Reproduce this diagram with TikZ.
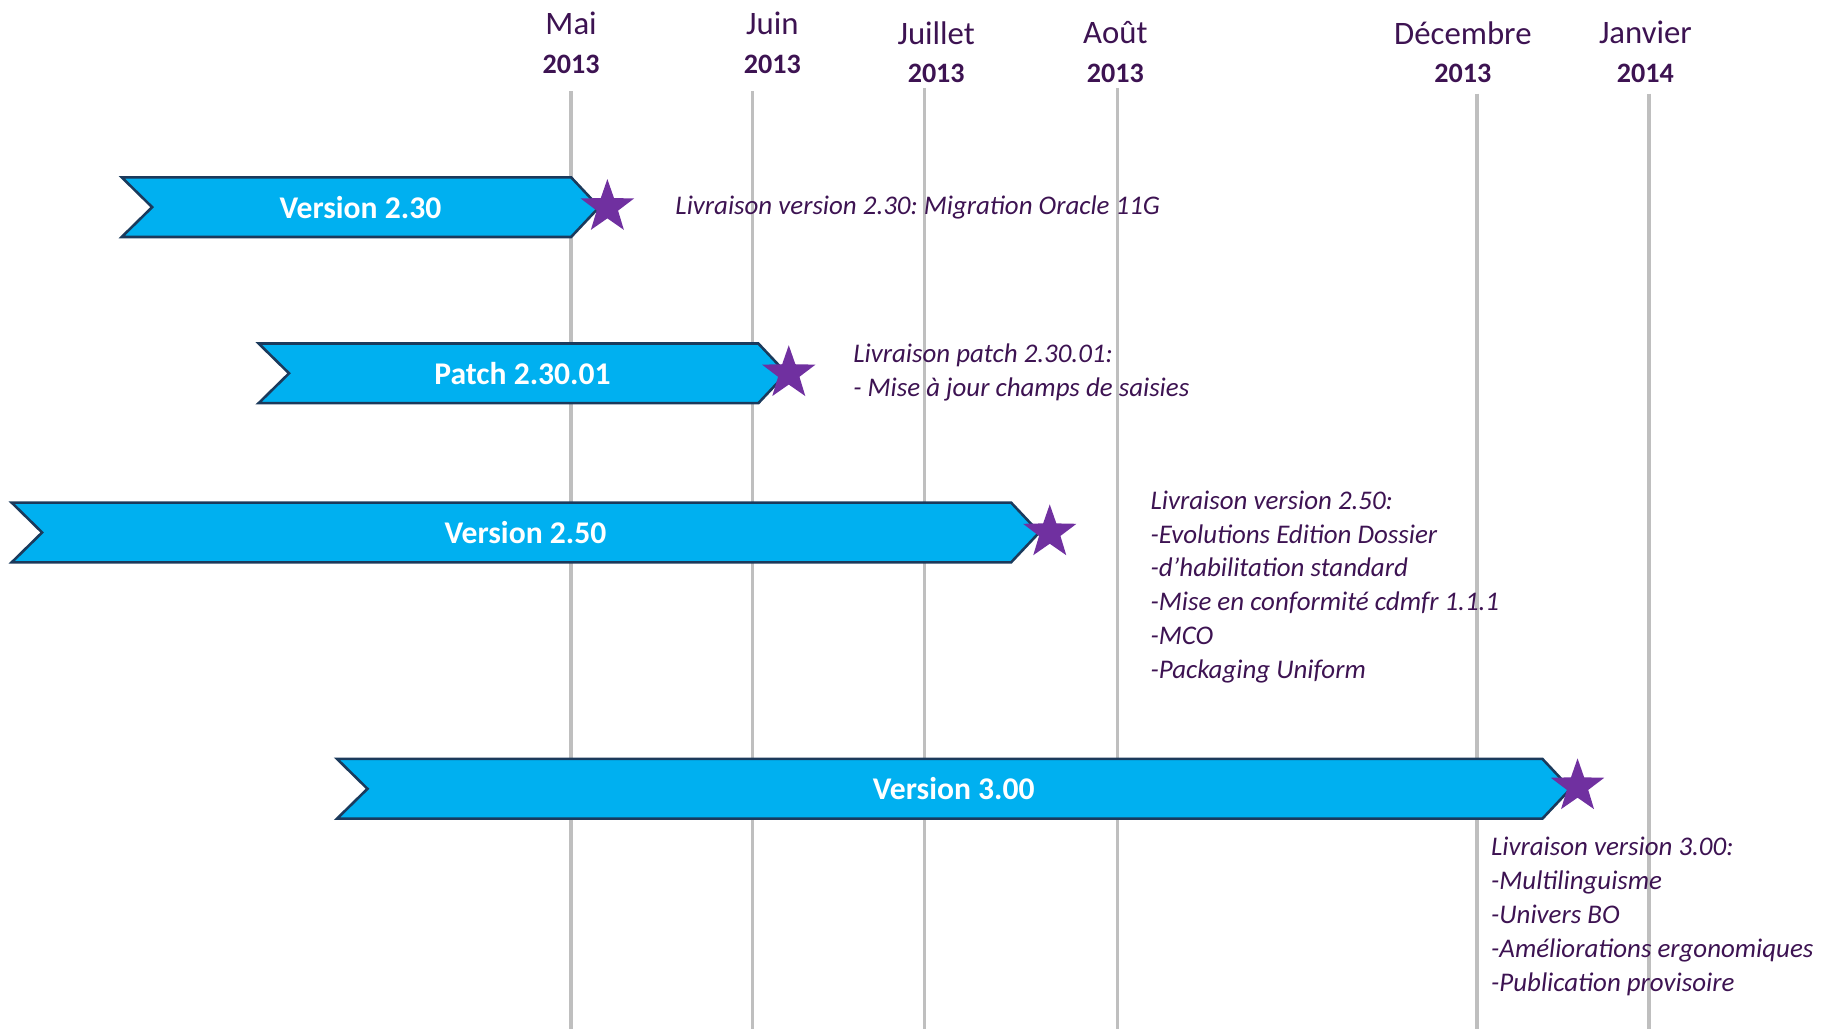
\documentclass[tikz,border=0pt]{standalone}
\usepackage{fontspec}
\setmainfont{Carlito}
\frenchspacing
\usetikzlibrary{shapes.geometric,positioning}
\definecolor{bannerblue}{HTML}{00B0F0}
\definecolor{bannerline}{HTML}{1B3A5C}
\definecolor{starpurple}{HTML}{7030A0}
\definecolor{textpurple}{HTML}{3D1352}
\definecolor{gridgray}{HTML}{BFBFBF}

% chevron banner: name, left x, body right x, centre y, text
\newcommand\chevron[5]{%
  \draw[banner] (#2,#4-25.5) -- (#3,#4-25.5) -- (#3+24,#4) -- (#3,#4+25.5)
    -- (#2,#4+25.5) -- (#2+26,#4) -- cycle;
  \node[bannertext] (#1) at ({(#2+#3+24)/2},#4) {#5};}

\begin{document}
\begin{tikzpicture}[x=1pt, y=-1pt,
    month/.style={text=textpurple, font=\fontsize{28}{28}\selectfont, inner sep=0pt},
    year/.style={text=textpurple, font=\fontsize{24}{24}\selectfont\bfseries, inner sep=0pt},
    gridline/.style={draw=gridgray, line width=3pt},
    banner/.style={fill=bannerblue, draw=bannerline, line width=2.2pt},
    bannertext/.style={text=white, font=\fontsize{27}{27}\selectfont\bfseries},
    deliv/.style={star, star points=5, star point ratio=2.5, fill=starpurple,
      inner sep=0pt, minimum size=48pt},
    note/.style={text=textpurple, font=\fontsize{23}{29}\selectfont\itshape,
      align=left, anchor=north west, inner sep=0pt}]
\useasboundingbox (0,0) rectangle (1568,879);

% MONTHS
\foreach \name/\xl/\xt/\yt/\yl/\mon/\yr in {
    mai/488/488/20/78/Mai/2013, juin/643/660/20/78/Juin/2013,
    juil/790/800/28/75/Juillet/2013, aout/955/953/28/75/Août/2013,
    dec/1262/1250/28/80/Décembre/2013, jan/1409/1406/28/80/Janvier/2014}{
  \node[month] (\name) at (\xt,\yt) {\mon};
  \node[year] (\name yr) at (\xt,\yt+35) {\yr};
  \coordinate (\name top) at (\xl,\yl);
  \coordinate (\name bot) at (\xl,879);
  \draw[gridline] (\name top) -- (\name bot);
}

% BANNERS
\chevron{v230}{104}{488}{177}{Version 2.30}
\chevron{p23001}{221}{648}{319}{Patch 2.30.01}
\chevron{v250}{10}{864}{455}{Version 2.50}
\chevron{v300}{288}{1318}{674}{Version 3.00}

% deliveries
\node[deliv] (s230) at (519,177) {};
\node[deliv] (s23001) at (674,319) {};
\node[deliv] (s250) at (897,455) {};
\node[deliv] (s300) at (1348,672) {};

\node[note] (n230) at (577,167) {Livraison version 2.30: Migration Oracle 11G};
\node[note] (n23001) at (729,294) {Livraison patch 2.30.01:\\- Mise à jour champs de saisies};
\node[note] (n250) at (983,419) {Livraison version 2.50:\\-Evolutions Edition Dossier\\
  -d’habilitation standard\\-Mise en conformité cdmfr 1.1.1\\-MCO\\-Packaging Uniform};
\node[note] (n300) at (1274,715) {Livraison version 3.00:\\-Multilinguisme\\-Univers BO\\
  -Améliorations ergonomiques\\-Publication provisoire};

\end{tikzpicture}
\end{document}
